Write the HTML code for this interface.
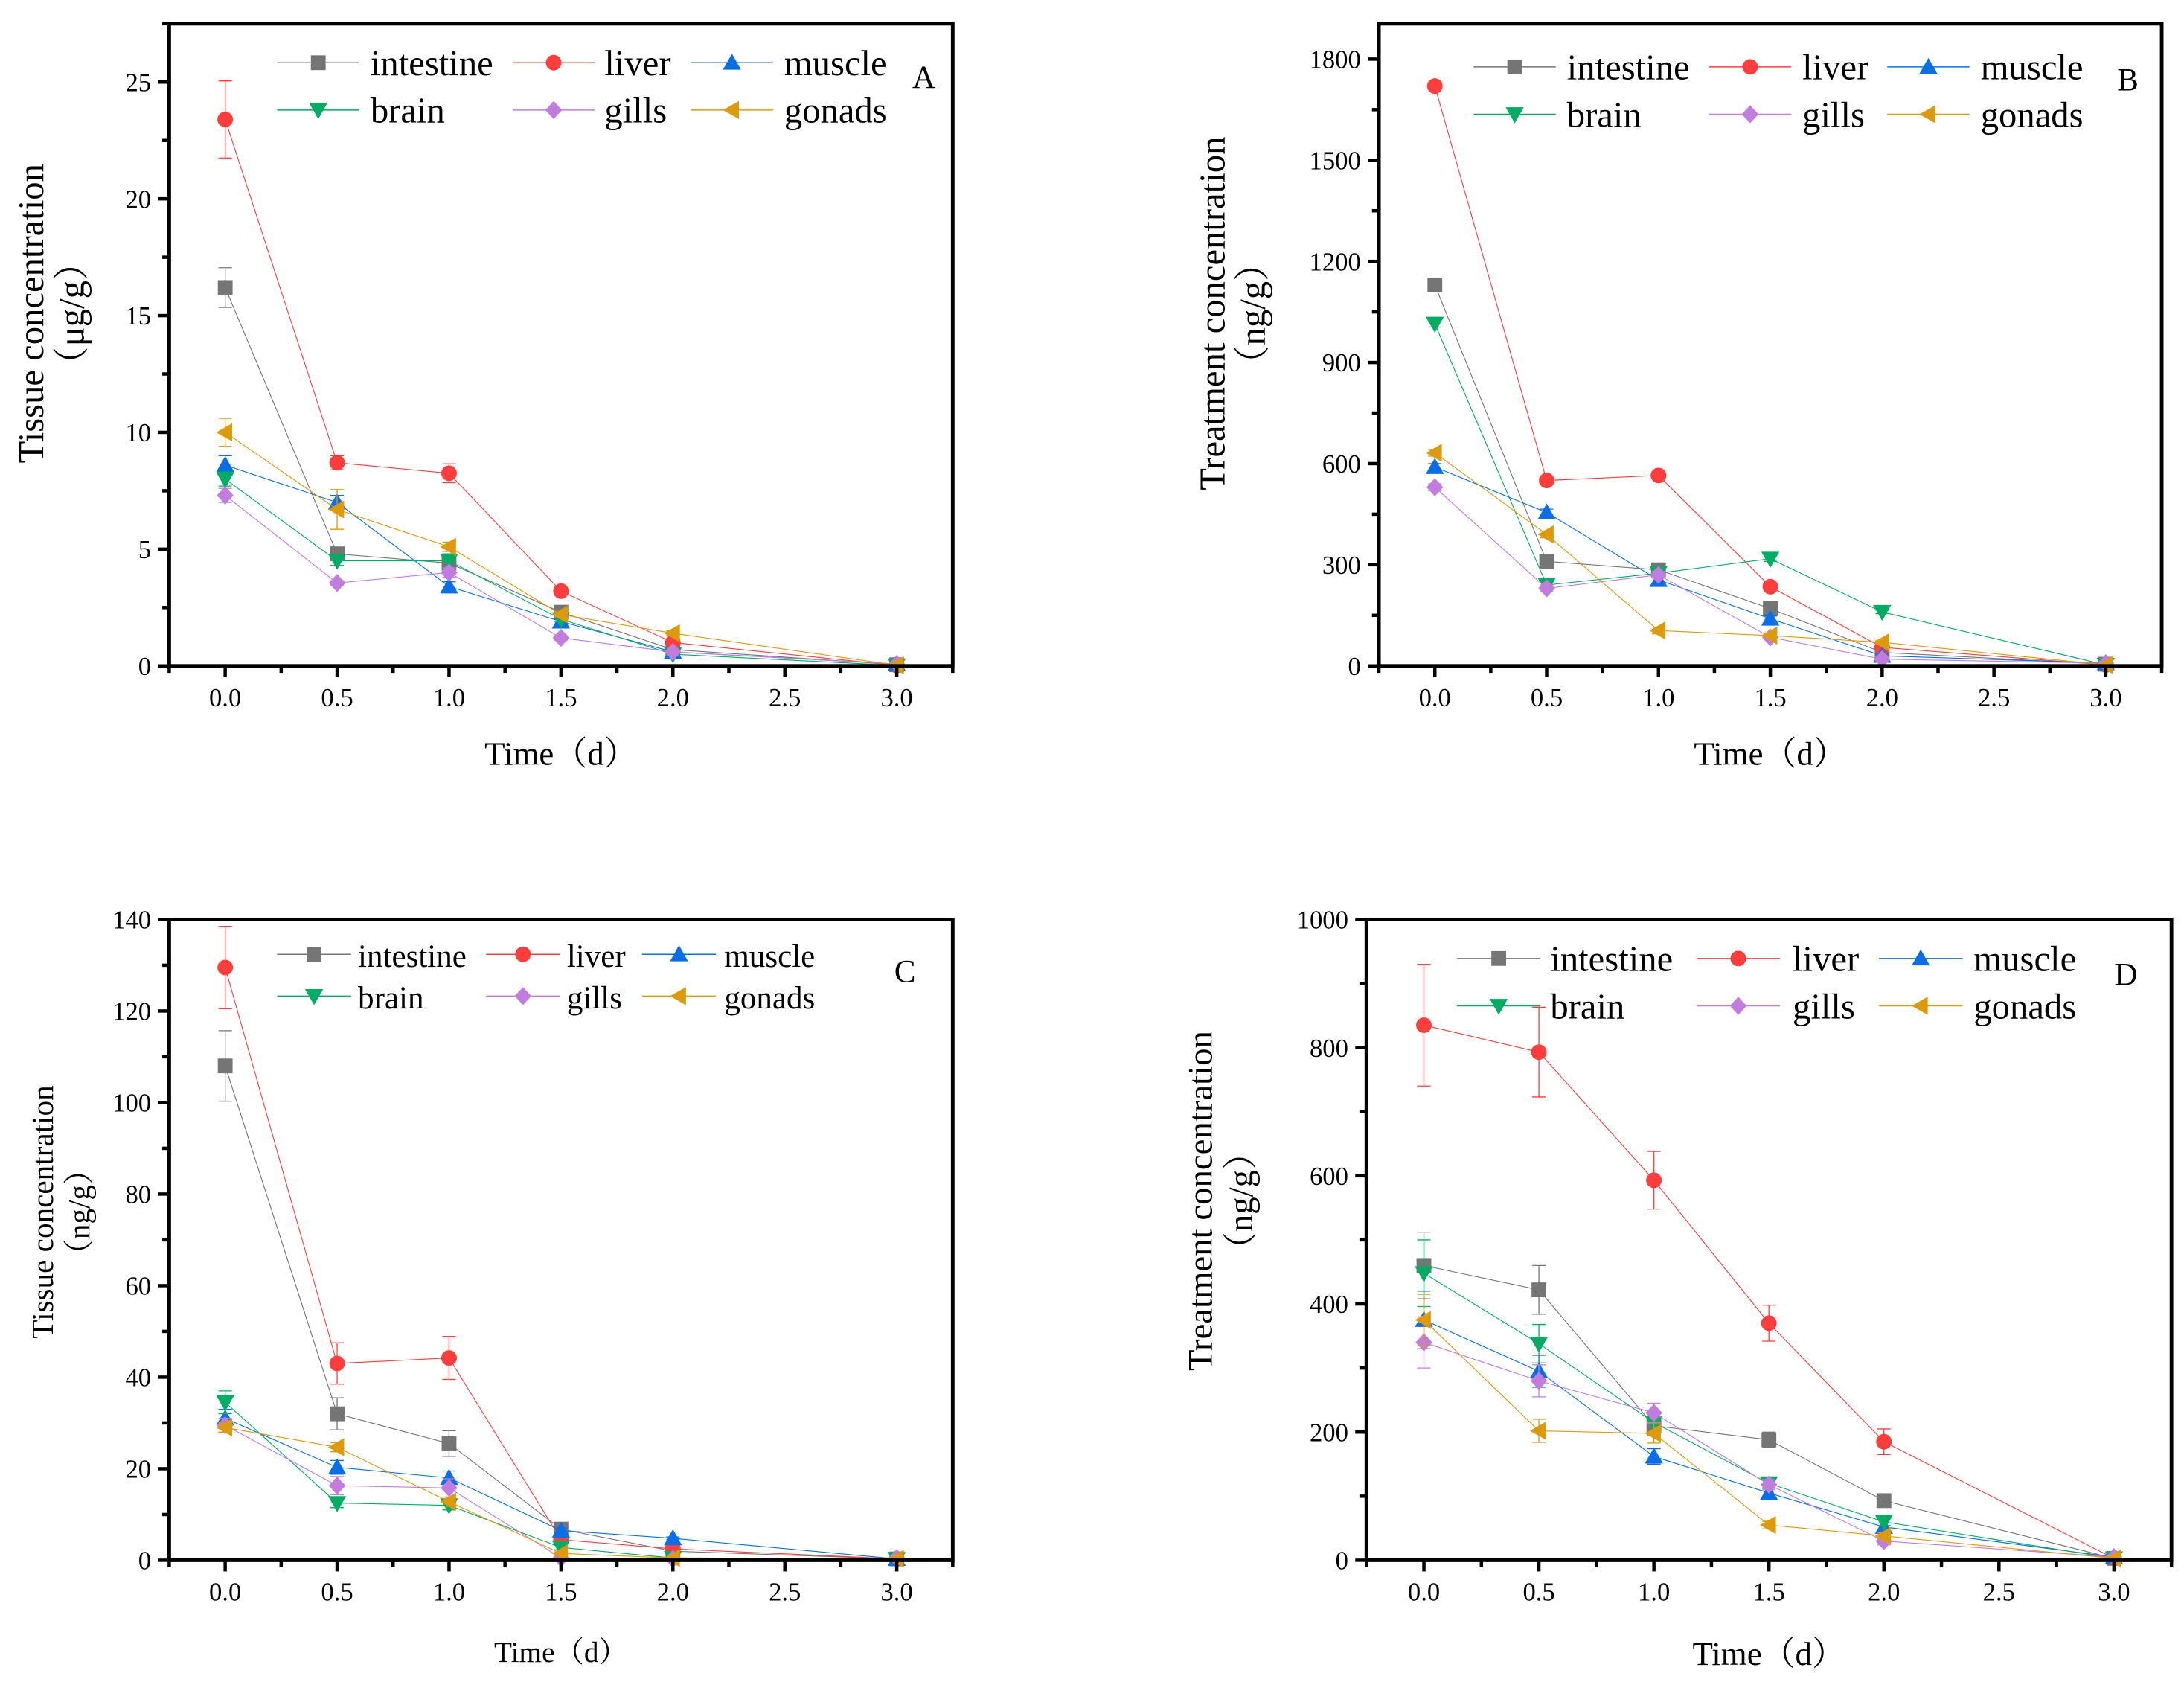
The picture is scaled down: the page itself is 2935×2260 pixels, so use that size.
<!DOCTYPE html>
<html><head><meta charset="utf-8">
<style>
html,body{margin:0;padding:0;background:#fff;}
svg, svg text{font-family:"Liberation Serif","Times New Roman",Times,"Noto Serif CJK SC",serif;}
</style></head>
<body>
<svg id="fig" width="2935" height="2255" viewBox="0 0 1568 1204.7" xmlns="http://www.w3.org/2000/svg">
<rect x="0" y="0" width="1568" height="1205" fill="#fff"/>
<g id="root" font-family="'Liberation Serif', 'Times New Roman', serif"></g>
</svg>
<script>
// ---- shared data ----
const timePoints = [0, 0.5, 1, 1.5, 2, 3];
const seriesNames = ["intestine", "liver", "muscle", "brain", "gills", "gonads"];
const xTickLabels = ["0.0", "0.5", "1.0", "1.5", "2.0", "2.5", "3.0"];

// ---- panel A (µg/g) ----
const aIntestine = [16.2, 4.8, 4.4, 2.3, 0.7, 0.05];
const aLiver     = [23.4, 8.7, 8.25, 3.2, 1.0, 0.02];
const aMuscle    = [8.6, 7.0, 3.4, 1.9, 0.6, 0.08];
const aBrain     = [8.0, 4.5, 4.5, 2.0, 0.5, 0.02];
const aGills     = [7.3, 3.55, 4.0, 1.2, 0.6, 0.08];
const aGonads    = [10.0, 6.7, 5.1, 2.2, 1.4, 0.03];
const aErrIntestine = [0.85, 0.2, 0.2, 0.1, 0.05, 0];
const aErrLiver     = [1.65, 0.3, 0.4, 0.1, 0.1, 0];
const aErrMuscle    = [0.4, 0.3, 0.2, 0.1, 0.05, 0];
const aErrBrain     = [0.3, 0.2, 0.3, 0.1, 0.05, 0];
const aErrGills     = [0.3, 0.1, 0.2, 0.1, 0.05, 0];
const aErrGonads    = [0.6, 0.85, 0.2, 0.1, 0.1, 0];
const aYTicks = [0, 5, 10, 15, 20, 25];

// ---- panel B (ng/g) ----
const bIntestine = [1130, 310, 285, 170, 40, 5];
const bLiver     = [1720, 550, 565, 235, 55, 3];
const bMuscle    = [590, 455, 255, 140, 30, 8];
const bBrain     = [1015, 240, 275, 318, 160, 3];
const bGills     = [530, 230, 270, 85, 20, 8];
const bGonads    = [632, 390, 105, 90, 70, 3];
const bErr = [10, 10, 10, 8, 5, 0];
const bYTicks = [0, 300, 600, 900, 1200, 1500, 1800];

// ---- panel C (ng/g) ----
const cIntestine = [108, 32, 25.5, 6.8, 2, 0.3];
const cLiver     = [129.5, 43, 44.2, 4.5, 2.5, 0.3];
const cMuscle    = [31, 20.3, 18, 6.5, 4.8, 0.3];
const cBrain     = [34.5, 12.5, 12, 2.8, 0.5, 0.3];
const cGills     = [29.5, 16.3, 15.8, 0.5, 0.3, 0.5];
const cGonads    = [29, 24.7, 12.8, 1.5, 0.5, 0.3];
const cErrIntestine = [7.7, 3.5, 2.8, 0.5, 0.3, 0];
const cErrLiver     = [9, 4.5, 4.7, 1, 0.3, 0];
const cErrMuscle    = [2, 1.5, 1.5, 0.5, 0.3, 0];
const cErrBrain     = [2.5, 1, 1, 0.5, 0.2, 0];
const cErrGills     = [1.5, 2, 2, 0.3, 0.2, 0];
const cErrGonads    = [1, 1, 1, 0.3, 0.2, 0];
const cYTicks = [0, 20, 40, 60, 80, 100, 120, 140];

// ---- panel D (ng/g) ----
const dIntestine = [460, 422, 210, 188, 93, 3];
const dLiver     = [835, 793, 593, 370, 185, 3];
const dMuscle    = [375, 295, 162, 105, 52, 5];
const dBrain     = [448, 338, 215, 120, 60, 3];
const dGills     = [340, 280, 230, 118, 30, 5];
const dGonads    = [375, 202, 198, 55, 38, 3];
const dErrIntestine = [52, 38, 15, 12, 8, 0];
const dErrLiver     = [95, 70, 45, 28, 20, 0];
const dErrMuscle    = [45, 25, 12, 8, 6, 0];
const dErrBrain     = [52, 30, 15, 8, 6, 0];
const dErrGills     = [40, 25, 15, 8, 6, 0];
const dErrGonads    = [40, 18, 15, 6, 5, 0];
const dYTicks = [0, 200, 400, 600, 800, 1000];

const colors = ["#757575", "#ff3d3d", "#0a6fe6", "#00ad63", "#c27ce0", "#dc9a0c"];
const markers = ["square", "circle", "up", "down", "diamond", "left"];
const FONT = "'Liberation Serif', 'Times New Roman', 'Noto Serif CJK SC', serif";

const NS = "http://www.w3.org/2000/svg";
const root = document.getElementById("root");
function mk(tag, attrs, parent) {
  const e = document.createElementNS(NS, tag);
  for (const k in attrs) e.setAttribute(k, attrs[k]);
  if (tag === "text") e.setAttribute("font-family", FONT);
  (parent || root).appendChild(e);
  return e;
}
function marker(g, type, cx, cy, color) {
  let e;
  const s = 5.3;
  if (type === "square") e = mk("rect", {x: cx - s, y: cy - s, width: 2 * s, height: 2 * s, fill: color}, g);
  else if (type === "circle") e = mk("circle", {cx: cx, cy: cy, r: 5.6, fill: color}, g);
  else if (type === "up") e = mk("polygon", {points: `${cx},${cy - 6.5} ${cx + 6.5},${cy + 5} ${cx - 6.5},${cy + 5}`, fill: color}, g);
  else if (type === "down") e = mk("polygon", {points: `${cx},${cy + 6.5} ${cx + 6.5},${cy - 5} ${cx - 6.5},${cy - 5}`, fill: color}, g);
  else if (type === "diamond") e = mk("polygon", {points: `${cx},${cy - 6.5} ${cx + 6},${cy} ${cx},${cy + 6.5} ${cx - 6},${cy}`, fill: color}, g);
  else e = mk("polygon", {points: `${cx - 6.5},${cy} ${cx + 5},${cy - 6.5} ${cx + 5},${cy + 6.5}`, fill: color}, g);
  return e;
}

function drawPanel(p) {
  const g = mk("g", {});
  
  
  const xs = v => p.L + (v - (-0.25)) / 3.5 * (p.R - p.L);
  const ys = v => p.B - v / p.ymax * (p.B - p.T);

  p.series.forEach((vals, si) => {
    const sg = mk("g", {}, g);
    
    
    const pts = vals.map((v, i) => `${xs(timePoints[i])},${ys(v)}`).join(" ");
    const line = mk("polyline", {points: pts, fill: "none", stroke: colors[si], "stroke-width": 0.6}, sg);
    
    
    vals.forEach((v, i) => {
      const er = p.errs[si][i];
      if (er > 0) {
        const x = xs(timePoints[i]);
        const eb = mk("path", {d: `M${x},${ys(v + er)}V${ys(Math.max(0, v - er))}M${x - 4.8},${ys(v + er)}h9.6M${x - 4.8},${ys(Math.max(0, v - er))}h9.6`, stroke: colors[si], "stroke-width": 0.7, fill: "none"}, sg);
        
        
      }
    });
    vals.forEach((v, i) => {
      const m = marker(sg, markers[si], xs(timePoints[i]), ys(v), colors[si]);
      
      
    });
  });

  const fr = mk("rect", {x: p.L, y: p.T, width: p.R - p.L, height: p.B - p.T, fill: "none", stroke: "#000", "stroke-width": 2.6}, g);
  
  

  for (let k = -1; k <= 13; k++) {
    const v = k * 0.25;
    const x = xs(v);
    const major = k % 2 === 0 && k >= 0;
    const t = mk("line", {x1: x, y1: p.B, x2: x, y2: p.B + (major ? 8 : 5), stroke: "#000", "stroke-width": 2.4}, g);
    
    
  }
  xTickLabels.forEach((lab, i) => {
    const t = mk("text", {x: xs(i * 0.5), y: p.B + 29, "text-anchor": "middle", "font-size": 18.5}, g);
    t.textContent = lab;
    
    
  });
  const step = p.yticks[1] - p.yticks[0];
  for (let v = 0; v <= p.ymax + 1e-9; v += step / 2) {
    const major = Math.abs((v / step) - Math.round(v / step)) < 1e-6;
    const y = ys(v);
    const t = mk("line", {x1: p.L, y1: y, x2: p.L - (major ? 8 : 5), y2: y, stroke: "#000", "stroke-width": 2.4}, g);
    
    
  }
  p.yticks.forEach(v => {
    const t = mk("text", {x: p.L - 13, y: ys(v) + 6.5, "text-anchor": "end", "font-size": 18.5}, g);
    t.textContent = String(v);
    
    
  });

  const xt = mk("text", {x: (p.L + p.R) / 2, y: p.xTitleY, "text-anchor": "middle", "font-size": p.xTitleSize}, g);
  xt.textContent = "Time（d）";
  
  
  const yt = mk("text", {transform: `translate(${p.yTitleX},${p.yTitleCY}) rotate(-90)`, "text-anchor": "middle", "font-size": p.yTitleSize}, g);
  yt.textContent = p.yTitle;
  
  
  const yu = mk("text", {transform: `translate(${p.yUnitX},${p.yTitleCY}) rotate(-90)`, "text-anchor": "middle", "font-size": p.yTitleSize}, g);
  yu.textContent = p.yUnit;
  
  

  const lg = mk("g", {}, g);
  
  
  seriesNames.forEach((n, si) => {
    const col = si % 3, row = Math.floor(si / 3);
    const y = p.legRows[row];
    const eg = mk("g", {}, lg);
    
    
    mk("line", {x1: p.legLine[col], y1: y, x2: p.legLine[col] + p.legLen, y2: y, stroke: colors[si], "stroke-width": 0.8}, eg);
    marker(eg, markers[si], p.legLine[col] + p.legLen / 2, y, colors[si]);
    const t = mk("text", {x: p.legText[col], y: y + 9, "font-size": p.legSize}, eg);
    t.textContent = n;
  });
  const lt = mk("text", {x: p.letterX, y: p.letterY + 8, "font-size": 23}, g);
  lt.textContent = p.letter;
  
  
}

drawPanel({letter: "A", L: 121.5, R: 684, T: 17, B: 478, ymax: 27.5, yticks: aYTicks,
  series: [aIntestine, aLiver, aMuscle, aBrain, aGills, aGonads],
  errs: [aErrIntestine, aErrLiver, aErrMuscle, aErrBrain, aErrGills, aErrGonads],
  xTitleY: 549, xTitleSize: 24, yTitle: "Tissue concentration", yUnit: "（μg/g）",
  yTitleX: 31, yUnitX: 60, yTitleCY: 225, yTitleSize: 26,
  legLine: [199, 368, 496], legLen: 59, legText: [266, 434, 563], legRows: [45, 79], legSize: 26,
  letterX: 655, letterY: 55});
drawPanel({letter: "B", L: 990, R: 1552, T: 17, B: 478, ymax: 1905, yticks: bYTicks,
  series: [bIntestine, bLiver, bMuscle, bBrain, bGills, bGonads],
  errs: [bErr, bErr, bErr, bErr, bErr, bErr],
  xTitleY: 549, xTitleSize: 24, yTitle: "Treatment concentration", yUnit: "（ng/g）",
  yTitleX: 879, yUnitX: 908, yTitleCY: 225, yTitleSize: 26,
  legLine: [1058, 1227, 1355], legLen: 59, legText: [1125, 1294, 1422], legRows: [48, 82], legSize: 26,
  letterX: 1520, letterY: 57});
drawPanel({letter: "C", L: 121.5, R: 684, T: 660, B: 1120, ymax: 140, yticks: cYTicks,
  series: [cIntestine, cLiver, cMuscle, cBrain, cGills, cGonads],
  errs: [cErrIntestine, cErrLiver, cErrMuscle, cErrBrain, cErrGills, cErrGonads],
  xTitleY: 1193, xTitleSize: 21, yTitle: "Tissue concentration", yUnit: "（ng/g）",
  yTitleX: 38, yUnitX: 64, yTitleCY: 870, yTitleSize: 22,
  legLine: [199, 349, 461], legLen: 53, legText: [257, 407, 520], legRows: [685, 715], legSize: 23,
  letterX: 642, letterY: 697});
drawPanel({letter: "D", L: 981, R: 1559, T: 660, B: 1120, ymax: 1000, yticks: dYTicks,
  series: [dIntestine, dLiver, dMuscle, dBrain, dGills, dGonads],
  errs: [dErrIntestine, dErrLiver, dErrMuscle, dErrBrain, dErrGills, dErrGonads],
  xTitleY: 1195, xTitleSize: 24, yTitle: "Treatment concentration", yUnit: "（ng/g）",
  yTitleX: 870, yUnitX: 899, yTitleCY: 862, yTitleSize: 25,
  legLine: [1046, 1218, 1349], legLen: 60, legText: [1113, 1287, 1417], legRows: [688, 722], legSize: 26,
  letterX: 1518, letterY: 699});
</script>
</body></html>
